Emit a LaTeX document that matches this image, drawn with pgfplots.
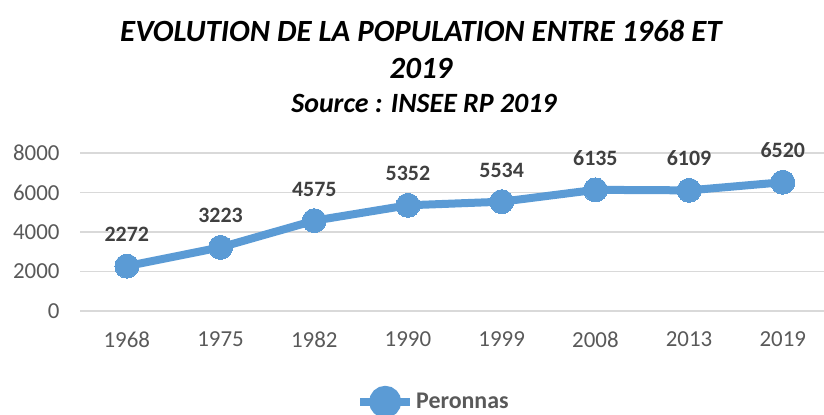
\documentclass[border=0pt]{standalone}
\usepackage{pgfplots}
\pgfplotsset{compat=1.18}
\usepackage{fontspec}
\setmainfont{Carlito}
\definecolor{lineblue}{HTML}{5B9BD5}
\definecolor{ticktxt}{HTML}{595959}
\definecolor{gridc}{HTML}{D9D9D9}
\definecolor{lbl}{HTML}{404040}
\begin{document}
\begin{tikzpicture}[x=1bp,y=1bp]
\useasboundingbox (0,0) rectangle (824,414);
\node[font=\bfseries\itshape\fontsize{31}{36}\selectfont,anchor=center] at (421,383) {EVOLUTION DE LA POPULATION ENTRE 1968 ET};
\node[font=\bfseries\itshape\fontsize{31}{36}\selectfont,anchor=center] at (421,346) {2019};
\node[font=\bfseries\itshape\fontsize{28}{32}\selectfont,anchor=center] at (424,311) {Source : INSEE RP 2019};
\begin{axis}[
  at={(80bp,103bp)}, anchor=south west,
  width=744bp, height=158bp, scale only axis,
  xmin=-0.5, xmax=7.44, ymin=0, ymax=8000,
  xtick={0,1,2,3,4,5,6,7},
  xticklabels={1968,1975,1982,1990,1999,2008,2013,2019},
  ytick={0,2000,4000,6000,8000},
  axis line style={draw=none},
  tick style={draw=none},
  ymajorgrids, grid style={gridc, line width=1.5bp},
  ticklabel style={font=\fontsize{23}{27}\selectfont, text=ticktxt},
  /pgf/number format/assume math mode=true,
  /pgf/number format/1000 sep={},
  xticklabel style={yshift=-17bp},
  yticklabel style={xshift=-17bp},
  clip=false,
  legend style={at={(0.475,-0.575)}, anchor=center, draw=none, fill=none,
    font=\bfseries\fontsize{24}{28}\selectfont, text=ticktxt},
  legend image code/.code={
    \draw[lineblue, line width=8bp] (0bp,0bp) -- (50bp,0bp);
    \fill[lineblue] (25bp,0bp) circle (12bp);
  },
]
\addplot[lineblue, line width=8bp, mark=*, mark size=12bp,
  mark options={fill=lineblue, draw=lineblue, line width=0bp},
  nodes near coords,
  every node near coord/.append style={font=\bfseries\fontsize{22}{26}\selectfont, text=lbl, yshift=21bp},
  point meta=explicit symbolic]
table[meta=lab] {
x y lab
0 2272 2272
1 3223 3223
2 4575 4575
3 5352 5352
4 5534 5534
5 6135 6135
6 6109 6109
7 6520 6520
};
\legend{Peronnas}
\end{axis}
\end{tikzpicture}
\end{document}
